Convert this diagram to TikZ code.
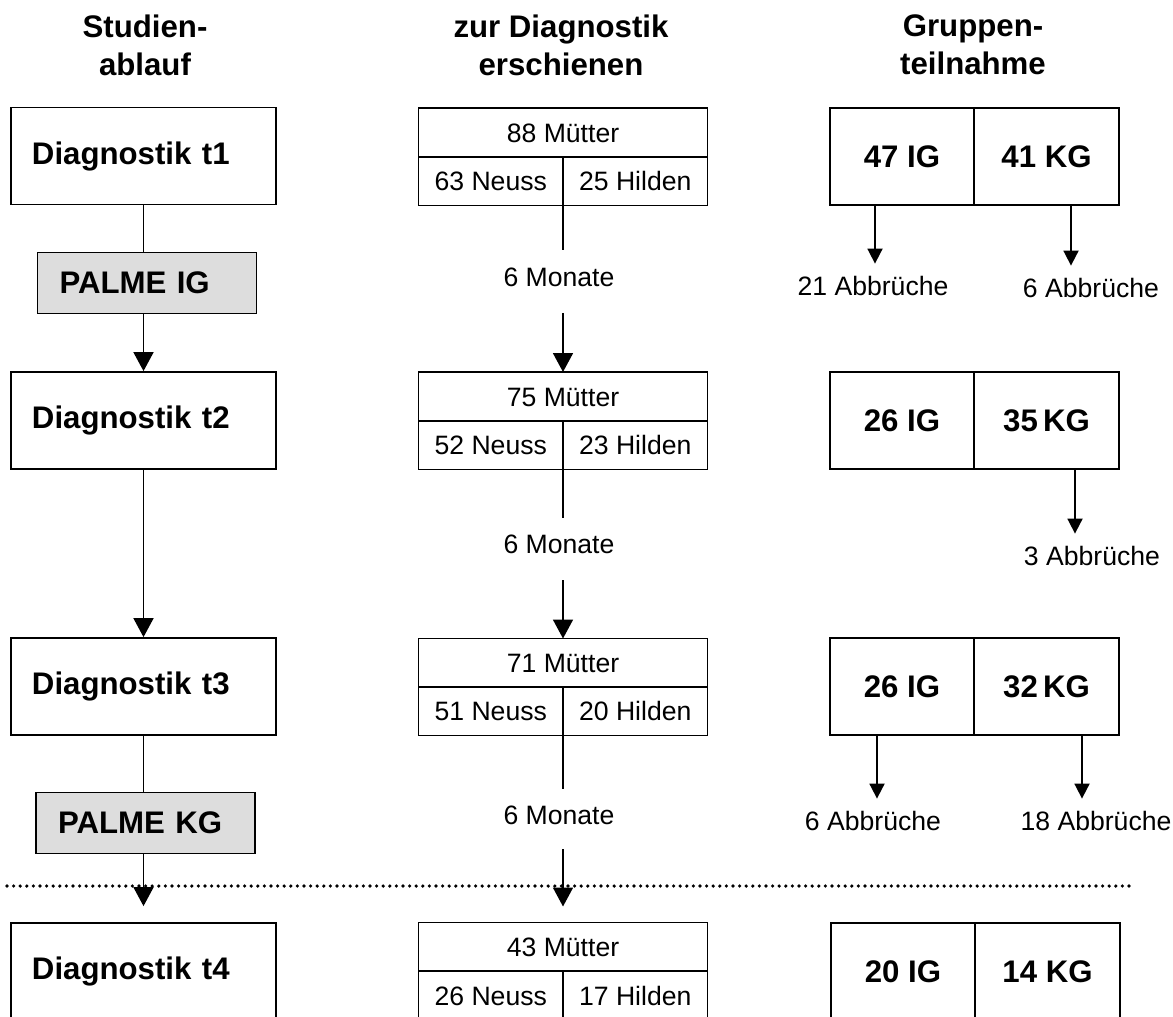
\documentclass[tikz,border=0pt]{standalone}
\usepackage{fontspec}
\setmainfont{Liberation Sans}
\usepackage{tikz}
\usetikzlibrary{arrows.meta}
\definecolor{palmegray}{RGB}{221,221,221}
\newcommand{\bigfont}{\bfseries\fontsize{15.6}{19}\selectfont}
\newcommand{\smallfont}{\fontsize{13.3}{16}\selectfont}

\begin{document}
\begin{tikzpicture}[
        x=0.5pt, y=-0.5pt,
        line width=0.9pt,
        >={Triangle[width=10pt,length=9.5pt]},
        head/.style={
            align=center,
            inner sep=0pt,
            font=\bigfont,
        },
        diag/.style={
            draw,
            text width=111.5pt,
            inner xsep=10.5pt,
            inner ysep=0pt,
            minimum height=48.5pt,
            align=left,
            font=\bigfont,
        },
        palme/.style={
            diag,
            fill=palmegray,
            text width=87.5pt,
            inner xsep=11pt,
            minimum height=30.5pt,
        },
        cell/.style={
            draw,
            minimum width=144.5pt,
            minimum height=24.5pt,
            inner sep=0pt,
            outer sep=0pt,
            font=\smallfont,
            text height=9.5pt,
            text depth=0pt,
        },
        half/.style={
            cell,
            minimum width=72.25pt,
            minimum height=24.5pt,
        },
        group/.style={
            draw,
            minimum width=72.25pt,
            minimum height=48.5pt,
            inner sep=0pt,
            font=\bigfont,
            text height=11.2pt,
            text depth=0pt,
        },
        gap/.style={
            inner xsep=0pt,
            inner ysep=8pt,
            font=\smallfont,
            text height=9.5pt,
            text depth=0pt,
        },
        drop/.style={
            gap,
            inner ysep=6pt,
        },
        small/.style={
            -{Triangle[width=7.5pt,length=7.5pt]},
        },
        cut/.style={
            line width=1.8pt,
            line cap=round,
            dash pattern=on 0pt off 3.3pt,
        },
    ]

    \useasboundingbox (0,0) rectangle (1173,1017);
    \clip (0,0) rectangle (1173,1017);

    % Column heads
    \node[head] (hd1) at (145,45) {Studien-\\ablauf};
    \node[head] (hd2) at (561,45) {zur Diagnostik\\erschienen};
    \node[head] (hd3) at (973,45) {Gruppen-\\teilnahme};

    % Left column: course of the study
    \node[diag] (diag1) at (143.5,156) {Diagnostik t1};
    \node[palme] (palme1) at (147,283) {PALME IG};
    \node[diag] (diag2) at (143.5,420.5) {Diagnostik t2};
    \node[diag] (diag3) at (143.5,686.5) {Diagnostik t3};
    \node[palme] (palme2) at (145.5,823) {PALME KG};
    \node[diag] (diag4) at (143.5,971.5) {Diagnostik t4};

    % Middle column: mothers per site
    \node[cell] (mut1) at (563,132.5) {88 Mütter};
    \node[half] (neuss1) at (490.75,181) {63 Neuss};
    \node[half] (hilden1) at (635.25,181) {25 Hilden};
    \node[gap] (mon1) at (559,276.5) {6 Monate};

    \node[cell] (mut2) at (563,396.5) {75 Mütter};
    \node[half] (neuss2) at (490.75,445) {52 Neuss};
    \node[half] (hilden2) at (635.25,445) {23 Hilden};
    \node[gap] (mon2) at (559,544) {6 Monate};

    \node[cell] (mut3) at (563,663) {71 Mütter};
    \node[half] (neuss3) at (490.75,711) {51 Neuss};
    \node[half] (hilden3) at (635.25,711) {20 Hilden};
    \node[gap] (mon3) at (559,815) {6 Monate};

    \node[cell] (mut4) at (563,947) {43 Mütter};
    \node[half] (neuss4) at (490.75,995.5) {26 Neuss};
    \node[half] (hilden4) at (635.25,995.5) {17 Hilden};

    % Right column: groups
    \node[group] (ig1) at (902,156.5) {47 IG};
    \node[group] (kg1) at (1046.5,156.5) {41 KG};
    \node[drop] (ab1) at (873,286) {21 Abbrüche};
    \node[drop] (ab2) at (1091,288) {6 Abbrüche};

    \node[group] (ig2) at (902,420.5) {26 IG};
    \node[group] (kg2) at (1046.5,420.5) {35\,KG};
    \node[drop] (ab3) at (1092,556) {3 Abbrüche};

    \node[group] (ig3) at (902,686.5) {26 IG};
    \node[group] (kg3) at (1046.5,686.5) {32\,KG};
    \node[drop] (ab4) at (873,821) {6 Abbrüche};
    \node[drop] (ab5) at (1096,821) {18 Abbrüche};

    \node[group] (ig4) at (903,971.5) {20 IG};
    \node[group] (kg4) at (1047.5,971.5) {14 KG};

    % Dotted separator
    \coordinate (cutl) at (7,886);
    \coordinate (cutr) at (1132,886);
    \draw[cut] (cutl) -- (cutr);

    % Left connectors
    \draw (diag1.south) -- (diag1.south |- palme1.north);
    \draw[->] (diag1.south |- palme1.south) -- (diag2.north);
    \draw[->] (diag2) -- (diag3);
    \draw (diag3.south) -- (diag3.south |- palme2.north);
    \draw[->, shorten >=8pt] (diag3.south |- palme2.south) -- (diag4.north);

    % Middle connectors
    \draw (neuss1.south east) -- (neuss1.south east |- mon1.north);
    \draw[->, shorten <=5pt] (neuss1.south east |- mon1.south) -- (neuss1.south east |- mut2.north);
    \draw (neuss2.south east) -- (neuss2.south east |- mon2.north);
    \draw[->, shorten <=5pt] (neuss2.south east |- mon2.south) -- (neuss2.south east |- mut3.north);
    \draw (neuss3.south east) -- (neuss3.south east |- mon3.north);
    \draw[->, shorten <=4pt, shorten >=8pt] (neuss3.south east |- mon3.south) -- (neuss3.south east |- mut4.north);

    % Right connectors
    \draw[small] ([xshift=-13.5pt]ig1.south) -- ([xshift=-13.5pt]ig1.south |- ab1.north);
    \draw[small] ([xshift=12.25pt]kg1.south) -- ([xshift=12.25pt]kg1.south |- ab2.north);
    \draw[small] ([xshift=14.25pt]kg2.south) -- ([xshift=14.25pt]kg2.south |- ab3.north);
    \draw[small] ([xshift=-12.5pt]ig3.south) -- ([xshift=-12.5pt]ig3.south |- ab4.north);
    \draw[small] ([xshift=17.75pt]kg3.south) -- ([xshift=17.75pt]kg3.south |- ab5.north);

\end{tikzpicture}
\end{document}
